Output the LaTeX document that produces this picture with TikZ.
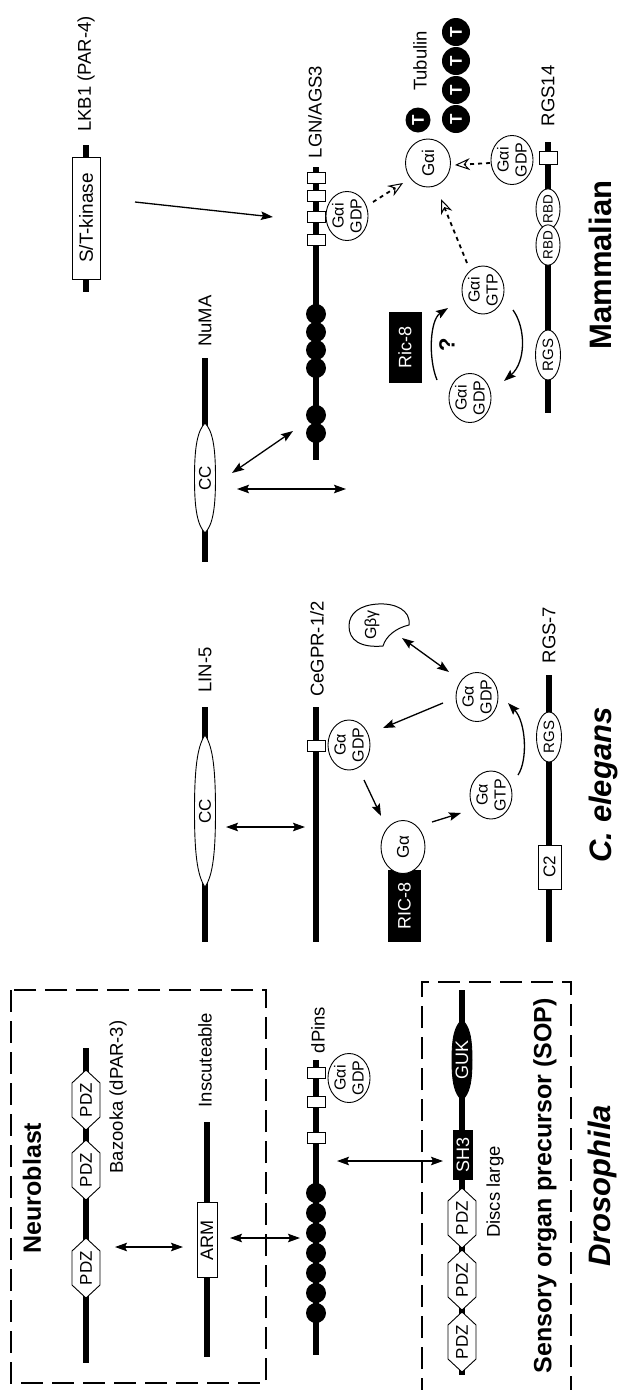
\documentclass[tikz,border=0pt]{standalone}
\usepackage{fontspec}
\setmainfont{Liberation Sans}
\usetikzlibrary{arrows.meta,shapes.geometric,shapes.symbols}
\newcommand\lensshape[5]{\path[draw,line width=0.9pt,fill=#5] (#1,#2-#3) .. controls (#1+0.75*#4,#2-0.85*#3) and (#1+#4,#2-0.55*#3) .. (#1+#4,#2) .. controls (#1+#4,#2+0.55*#3) and (#1+0.75*#4,#2+0.85*#3) .. (#1,#2+#3) .. controls (#1-0.75*#4,#2+0.85*#3) and (#1-#4,#2+0.55*#3) .. (#1-#4,#2) .. controls (#1-#4,#2-0.55*#3) and (#1-0.75*#4,#2-0.85*#3) .. (#1,#2-#3) -- cycle;}
\begin{document}
\begin{tikzpicture}[x=1pt,y=-1pt,
  bb/.style={line width=6pt},
  lbl/.style={rotate=90,font=\fontsize{18.5}{20}\selectfont,inner sep=0pt},
  bigl/.style={rotate=90,font=\fontsize{25}{28}\selectfont\bfseries,inner sep=0pt},
  species/.style={rotate=90,font=\fontsize{31}{34}\selectfont\bfseries,inner sep=0pt},
  dom/.style={rotate=90,draw,fill=white,line width=0.9pt,inner sep=0pt,font=\fontsize{17}{19}\selectfont},
  rbox/.style={dom,rectangle},
  ell/.style={dom,ellipse},
  intext/.style={rotate=90,inner sep=0pt,font=\fontsize{17}{19}\selectfont},
  gel/.style={dom,ellipse,minimum width=48pt,minimum height=42pt,align=center,font=\fontsize{16}{18}\selectfont},
  blk/.style={rotate=90,rectangle,fill=black,text=white,inner sep=0pt,font=\fontsize{18}{20}\selectfont},
  pdz/.style={dom,signal,signal to=east and west,signal pointer angle=94,minimum width=54pt,minimum height=28pt,font=\fontsize{17}{19}\selectfont},
  bead/.style={circle,fill=black,minimum size=20pt,inner sep=0pt},
  tub/.style={rotate=90,circle,fill=black,text=white,minimum size=28pt,inner sep=0pt,font=\fontsize{17}{19}\selectfont\bfseries},
  sq/.style={rectangle,draw,fill=white,line width=0.9pt,minimum width=18pt,minimum height=11pt,inner sep=0pt},
  dbox/.style={line width=1.1pt,dash pattern=on 22pt off 9pt},
  tip/.tip={Stealth[length=12pt,width=8.5pt,inset=2pt]},
  arr/.style={line width=1.3pt,-tip},
  darr/.style={line width=1.3pt,tip-tip},
  dsh/.style={line width=1.8pt,dash pattern=on 4pt off 4pt,-{Stealth[open,length=15pt,width=12pt,inset=5pt,line width=1pt]}}
]
\useasboundingbox (0,0) rectangle (619,1390);

% ================= Mammalian =================
\draw[bb] (86,145) -- (86,292);
\node[rbox,minimum width=122pt,minimum height=28pt,font=\fontsize{19}{21}\selectfont] (stk) at (86,218) {S/T-kinase};
\node[lbl] (lkb) at (86,74) {LKB1 (PAR-4)};

\draw[bb] (205,358) -- (205,562);
\lensshape{205}{478}{55}{10.5}{white}
\node[intext] (ccn) at (205,478) {CC};
\node[lbl] (numa) at (205,321) {NuMA};

\draw[bb] (316,167) -- (316,460);
\node[sq] (l1) at (316,178) {};
\node[sq] (l2) at (316,196) {};
\node[sq] (l3) at (316,217) {};
\node[sq] (l4) at (316,240) {};
\foreach \yy [count=\i] in {314,332,350,368,415,433} \node[bead] (lb\i) at (316,\yy) {};
\node[lbl] (lgn) at (315,112) {LGN/AGS3};
\node[gel] (mg1) at (347,216) {Gαi\\GDP};

\node[gel,minimum width=48pt,minimum height=45pt,font=\fontsize{17}{19}\selectfont] (mgi) at (428,163) {Gαi};
\node[tub,minimum size=25pt] (t0) at (418,120) {T};
\foreach \yy [count=\i] in {32,61,90,119} \node[tub] (tm\i) at (456,\yy) {T};
\node[lbl] (tubm) at (420,61) {Tubulin};

\draw[bb] (548,142) -- (548,413);
\node[sq,minimum height=13pt] (r14) at (548,158) {};
\node[ell,minimum width=35pt,minimum height=24pt,font=\fontsize{13.5}{15}\selectfont] (rbd1) at (548,209) {RBD};
\node[ell,minimum width=35pt,minimum height=24pt,font=\fontsize{13.5}{15}\selectfont] (rbd2) at (548,245) {RBD};
\node[ell,minimum width=50pt,minimum height=25pt,font=\fontsize{15}{17}\selectfont] (rgsm) at (548,355) {RGS};
\node[lbl] (rgs14) at (548,96) {RGS14};
\node[gel,minimum height=40pt] (mg2) at (512,160) {Gαi\\GDP};

\node[gel] (mgtp) at (483,290) {Gαi\\GTP};
\node[gel] (mgdp) at (470,398) {Gαi\\GDP};
\node[blk,minimum width=71pt,minimum height=33pt] (ric8m) at (405,347) {Ric-8};
\node[rotate=90,font=\fontsize{22}{24}\selectfont\bfseries,inner sep=0pt] (q) at (447,345) {?};
\node[species] (mamm) at (600,265) {Mammalian};

\coordinate (k1) at (135,202); \coordinate (k2) at (273,217);
\draw[arr] (k1) -- (k2);
\coordinate (n1) at (232,473); \coordinate (n2) at (293,431);
\draw[darr] (n1) -- (n2);
\coordinate (n3) at (237,489); \coordinate (n4) at (346,489);
\draw[darr] (n3) -- (n4);
\coordinate (d1) at (373,202); \coordinate (d2) at (403,183);
\draw[dsh] (d1) -- (d2);
\coordinate (d3) at (490,163); \coordinate (d4) at (455,165);
\draw[dsh] (d3) -- (d4);
\coordinate (d5) at (467,263); \coordinate (d6) at (441,199);
\draw[dsh] (d5) -- (d6);
\coordinate (c1) at (437,380); \coordinate (c2) at (448,308);
\draw[arr] (c1) .. controls (428,358) and (430,320) .. (c2);
\coordinate (c3) at (513,310); \coordinate (c4) at (504,381);
\draw[arr] (c3) .. controls (526,328) and (526,362) .. (c4);

% ================= C. elegans =================
\draw[bb] (205,707) -- (205,942);
\lensshape{205}{811}{76}{10.5}{white}
\node[intext] (ccl) at (205,811) {CC};
\node[lbl] (lin5) at (205,670) {LIN-5};

\draw[bb] (316,707) -- (316,942);
\node[sq] (cg) at (316,746) {};
\node[lbl] (cegpr) at (317,649) {CeGPR-1/2};
\node[gel,minimum width=50pt] (cgdp1) at (349,745) {Gα\\GDP};

\node[blk,minimum width=72pt,minimum height=33pt] (ric8c) at (404.5,906) {RIC-8};
\node[gel,minimum width=53pt,minimum height=44pt,font=\fontsize{17}{19}\selectfont] (cga) at (403,847) {Gα};
\node[gel] (cgtp) at (491,795) {Gα\\GTP};
\node[gel] (cgdp2) at (477,697) {Gα\\GDP};

\draw[line width=1pt,fill=white] (409,625) .. controls (411,610) and (395,603) .. (378,604) .. controls (360,605) and (349,613) .. (349,626) .. controls (349,640) and (360,648) .. (383,646) .. controls (386,636) and (396,628) .. (409,625) -- cycle;
\node[rotate=90,font=\fontsize{16}{18}\selectfont,inner sep=0pt] (gbg) at (372,625) {Gβγ};

\draw[bb] (549,675) -- (549,942);
\node[ell,minimum width=50pt,minimum height=25pt,font=\fontsize{15}{17}\selectfont] (rgsc) at (549,737) {RGS};
\node[rbox,minimum width=44pt,minimum height=23pt] (c2) at (549.5,867) {C2};
\node[lbl] (rgs7) at (549,635) {RGS-7};
\node[species,font=\fontsize{31}{34}\selectfont\bfseries\itshape] (cel) at (603,785) {C. elegans};

\coordinate (e1) at (226,827); \coordinate (e2) at (305,827);
\draw[darr] (e1) -- (e2);
\coordinate (e3) at (364,780); \coordinate (e4) at (381,816);
\draw[arr] (e3) -- (e4);
\coordinate (e5) at (432,822); \coordinate (e6) at (461,813);
\draw[arr] (e5) -- (e6);
\coordinate (e7) at (443,703); \coordinate (e8) at (383,728);
\draw[arr] (e7) -- (e8);
\coordinate (e9) at (449,672); \coordinate (e10) at (402,638);
\draw[darr] (e9) -- (e10);
\coordinate (e11) at (518,775); \coordinate (e12) at (508,703);
\draw[arr] (e11) .. controls (528,760) and (526,722) .. (e12);

% ================= Drosophila =================
\draw[dbox] (11,990) rectangle (266,1383);
\node[bigl] (nb) at (32,1188) {Neuroblast};

\draw[bb] (86,1048) -- (86,1363);
\node[pdz] (bz1) at (86,1100) {PDZ};
\node[pdz] (bz2) at (86,1170) {PDZ};
\node[pdz] (bz3) at (86,1268) {PDZ};
\node[lbl] (baz) at (118,1097) {Bazooka (dPAR-3)};

\draw[bb] (207,1122) -- (207,1357);
\node[rbox,minimum width=75pt,minimum height=20pt,font=\fontsize{18}{20}\selectfont] (arm) at (207,1240) {ARM};
\node[lbl] (insc) at (205,1060) {Inscuteable};

\draw[bb] (316,1060) -- (316,1355);
\node[sq] (p1) at (316,1073) {};
\node[sq] (p2) at (316,1102) {};
\node[sq] (p3) at (316,1138) {};
\foreach \i in {0,...,6} \node[bead] (pb\i) at (316,1193+20*\i) {};
\node[lbl] (dpins) at (318,1030) {dPins};
\node[gel,minimum height=42pt] (dgdp) at (349,1078) {Gαi\\GDP};

\draw[dbox] (422,1400) -- (422,982) -- (571,982) -- (571,1400);
\draw[bb] (462,990) -- (462,1375);
\lensshape{462}{1060}{40}{10}{black}
\node[intext,text=white,font=\fontsize{18}{20}\selectfont] (guk) at (462,1060) {GUK};
\node[blk,minimum width=50pt,minimum height=20pt] (sh3) at (463,1155) {SH3};
\node[pdz] (dl1) at (462,1218) {PDZ};
\node[pdz] (dl2) at (462,1280) {PDZ};
\node[pdz] (dl3) at (462,1342) {PDZ};
\node[lbl] (dlg) at (495,1192) {Discs large};
\node[bigl] (sop) at (545,1186) {Sensory organ precursor (SOP)};
\node[species,font=\fontsize{31}{34}\selectfont\bfseries\itshape] (dros) at (602,1186) {Drosophila};

\coordinate (f1) at (115,1247); \coordinate (f2) at (183,1247);
\draw[darr] (f1) -- (f2);
\coordinate (f3) at (230,1238); \coordinate (f4) at (300,1238);
\draw[darr] (f3) -- (f4);
\coordinate (f5) at (337,1161); \coordinate (f6) at (443,1161);
\draw[darr] (f5) -- (f6);
\end{tikzpicture}
\end{document}
